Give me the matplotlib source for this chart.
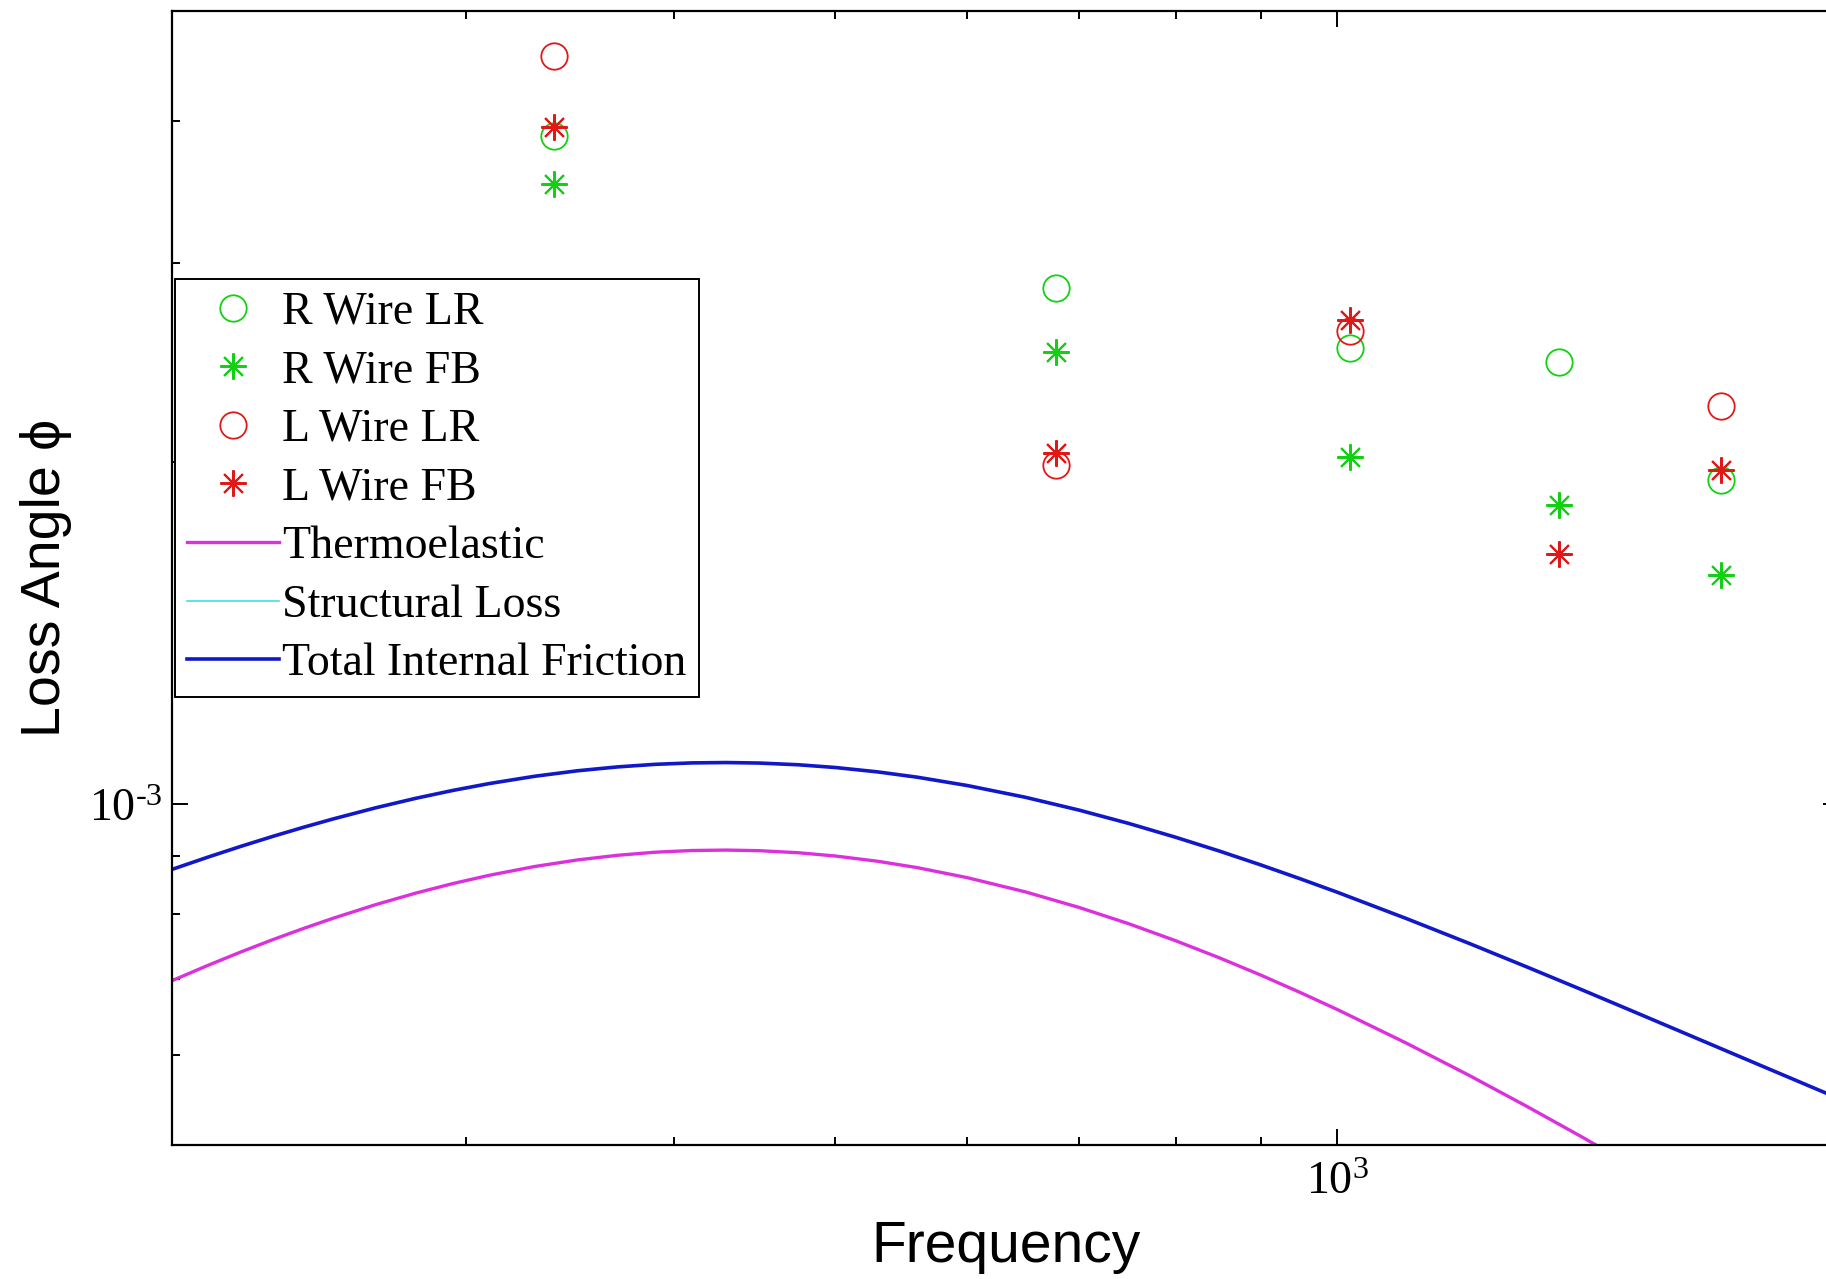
import matplotlib
matplotlib.use("Agg")
import matplotlib.pyplot as plt
from matplotlib.ticker import FixedLocator, FuncFormatter, LogLocator, NullFormatter

plt.rcParams["mathtext.fontset"] = "custom"
plt.rcParams["mathtext.rm"] = "Liberation Serif"
plt.rcParams["mathtext.it"] = "Liberation Serif:italic"
plt.rcParams["mathtext.bf"] = "Liberation Serif:bold"

# Measured loss angles (mode frequency in Hz, loss angle)
r_lr_freq = [339, 678, 1018, 1359, 1700]
r_lr_phi = [3.88e-3, 2.85e-3, 2.52e-3, 2.45e-3, 1.93e-3]

r_fb_freq = [339, 678, 1018, 1359, 1700]
r_fb_phi = [3.52e-3, 2.50e-3, 2.02e-3, 1.835e-3, 1.59e-3]

l_lr_freq = [339, 678, 1018, 1700]
l_lr_phi = [4.56e-3, 1.99e-3, 2.61e-3, 2.24e-3]

l_fb_freq = [339, 678, 1018, 1359, 1700]
l_fb_phi = [3.95e-3, 2.04e-3, 2.67e-3, 1.66e-3, 1.97e-3]

# Model curves
model_freq = [200, 210, 220, 230, 240, 250, 265, 280, 295, 310, 330, 350, 370,
              390, 410, 430, 450, 475, 500, 530, 560, 600, 650, 700, 750, 800,
              850, 900, 950, 1000, 1100, 1200, 1300, 1400, 1500, 1600, 1700,
              1800, 1900, 2000]
thermoelastic = [6.980e-4, 7.197e-4, 7.400e-4, 7.589e-4, 7.764e-4, 7.926e-4,
                 8.146e-4, 8.338e-4, 8.504e-4, 8.646e-4, 8.801e-4, 8.919e-4,
                 9.004e-4, 9.061e-4, 9.092e-4, 9.100e-4, 9.089e-4, 9.051e-4,
                 8.991e-4, 8.896e-4, 8.781e-4, 8.604e-4, 8.360e-4, 8.100e-4,
                 7.835e-4, 7.570e-4, 7.311e-4, 7.059e-4, 6.816e-4, 6.584e-4,
                 6.150e-4, 5.759e-4, 5.406e-4, 5.089e-4, 4.802e-4, 4.543e-4,
                 4.309e-4, 4.096e-4, 3.902e-4, 3.724e-4]
structural = [1.77e-4] * len(model_freq)
total_friction = [8.750e-4, 8.967e-4, 9.170e-4, 9.359e-4, 9.534e-4, 9.696e-4,
                  9.916e-4, 1.0108e-3, 1.0274e-3, 1.0416e-3, 1.0571e-3, 1.0689e-3,
                  1.0774e-3, 1.0831e-3, 1.0862e-3, 1.0870e-3, 1.0859e-3, 1.0821e-3,
                  1.0761e-3, 1.0666e-3, 1.0551e-3, 1.0374e-3, 1.0130e-3, 9.870e-4,
                  9.605e-4, 9.340e-4, 9.081e-4, 8.829e-4, 8.586e-4, 8.354e-4,
                  7.920e-4, 7.529e-4, 7.176e-4, 6.859e-4, 6.572e-4, 6.313e-4,
                  6.079e-4, 5.866e-4, 5.672e-4, 5.494e-4]

x_limits = (200, 2000)
y_limits = (5e-4, 5e-3)

W, H = 1826, 1279
fig = plt.figure(figsize=(W / 100, H / 100), dpi=100)
fig.patch.set_facecolor("white")
ax = fig.add_axes([172 / W, (H - 1145) / H, 1667 / W, 1134 / H])

green = "#12d012"
red = "#e01818"
star = (8, 2, 0)

ax.plot(r_lr_freq, r_lr_phi, linestyle="none", marker="o", ms=19, mfc="none",
        mec=green, mew=1.3, label="R Wire LR")
ax.plot(r_fb_freq, r_fb_phi, linestyle="none", marker=star, ms=19,
        mec=green, mew=1.5, label="R Wire FB")
ax.plot(l_lr_freq, l_lr_phi, linestyle="none", marker="o", ms=19, mfc="none",
        mec=red, mew=1.3, label="L Wire LR")
ax.plot(l_fb_freq, l_fb_phi, linestyle="none", marker=star, ms=19,
        mec=red, mew=1.5, label="L Wire FB")
ax.plot(model_freq, thermoelastic, color="#dd30dd", lw=2.4, label="Thermoelastic")
ax.plot(model_freq, structural, color="#40e0e0", lw=1.2, label="Structural Loss")
ax.plot(model_freq, total_friction, color="#1018c8", lw=2.6,
        label="Total Internal Friction")

ax.set_xscale("log")
ax.set_yscale("log")
ax.set_xlim(*x_limits)
ax.set_ylim(*y_limits)

ax.xaxis.set_major_locator(FixedLocator([1e3]))
ax.yaxis.set_major_locator(FixedLocator([1e-3]))
ax.xaxis.set_minor_locator(LogLocator(base=10, subs=range(2, 10)))
ax.yaxis.set_minor_locator(LogLocator(base=10, subs=range(2, 10)))
ax.xaxis.set_minor_formatter(NullFormatter())
ax.yaxis.set_minor_formatter(NullFormatter())
ax.xaxis.set_major_formatter(FuncFormatter(lambda v, p: r"$10^{3}$"))
ax.yaxis.set_major_formatter(FuncFormatter(lambda v, p: "$10^{\u20103}$"))

ax.tick_params(which="both", direction="in", top=True, right=True, width=1.4,
               colors="black")
ax.tick_params(which="major", length=11.5, labelsize=33, pad=10)
ax.tick_params(which="minor", length=6)
ax.tick_params(axis="y", which="major", pad=7)
for s in ax.spines.values():
    s.set_linewidth(1.6)

ax.set_xlabel("Frequency", fontsize=41, family=["Liberation Sans", "DejaVu Sans"])
ax.set_ylabel("Loss Angle \u03d5", fontsize=40, family=["Liberation Sans", "DejaVu Sans"])
ax.xaxis.set_label_coords(0.5, -0.066)
ax.yaxis.set_label_coords(-0.060, 0.5)

leg = ax.legend(loc="upper left", bbox_to_anchor=(0.0018, 0.7637),
                prop={"family": "Liberation Serif", "size": 33},
                frameon=True, fancybox=False, framealpha=1, edgecolor="black",
                borderpad=0.27, labelspacing=0.35, handlelength=2.0,
                handletextpad=0.07, borderaxespad=0.0)
leg.get_frame().set_linewidth(1.4)

fig.savefig("out.png", dpi=100, facecolor="white")
